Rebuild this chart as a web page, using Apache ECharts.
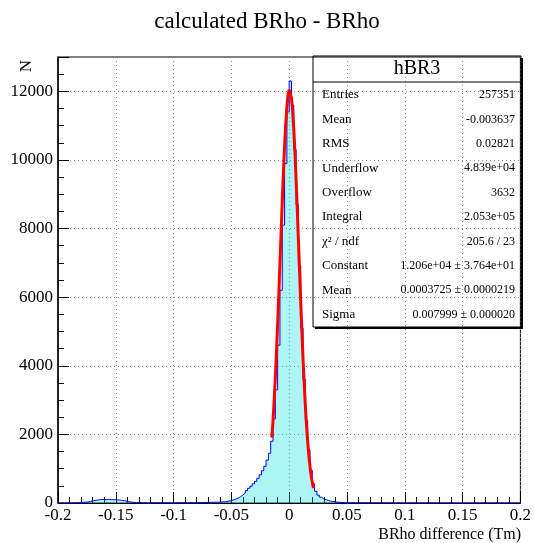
<!DOCTYPE html>
<html>
<head>
<meta charset="utf-8">
<script src="https://cdn.jsdelivr.net/npm/echarts@6/dist/echarts.min.js"></script>
<style>
  html, body { margin: 0; padding: 0; background: #fff; }
  #chart { width: 534px; height: 543px; }
</style>
</head>
<body>
<div id="chart"></div>
<script>
// histogram hBR3: 200 bins of 0.002 from -0.2 to 0.2
const binLow = -0.2;
const binWidth = 0.002;
const counts = [
  0, 0, 0, 0, 2, 3, 5, 8, 10, 15,                          // -0.200
  20, 25, 30, 45, 60, 75, 85, 95, 100, 105,                 // -0.180
  100, 105, 100, 95, 95, 90, 85, 75, 65, 50,                // -0.160
  35, 25, 15, 10, 20, 10, 6, 5, 4, 5,                       // -0.140
  4, 5, 5, 6, 5, 6, 6, 7, 7, 8,                             // -0.120
  6, 6, 7, 7, 8, 8, 9, 9, 10, 10,                           // -0.100
  11, 12, 13, 14, 16, 18, 20, 22, 25, 27,                   // -0.080
  30, 35, 45, 55, 70, 90, 115, 145, 185, 235,               // -0.060
  290, 360, 430, 490, 560, 630, 720, 820, 940, 1070,        // -0.040
  1250, 1450, 1800, 2450, 3300, 4600, 6200, 8100, 9900, 11400, // -0.020
  12300, 11600, 10300, 8700, 6900, 5100, 3600, 2400, 1550, 950, // 0.000
  560, 340, 230, 170, 120, 95, 75, 55, 45, 35,              // 0.020
  25, 20, 16, 13, 11, 9, 8, 7, 6, 5,                        // 0.040
  5, 4, 4, 4, 3, 3, 3, 3, 2, 2,                             // 0.060
  2, 2, 2, 2, 1, 1, 1, 1, 1, 1,                             // 0.080
  1, 1, 1, 0, 1, 0, 0, 1, 0, 0,                             // 0.100
  0, 0, 1, 0, 0, 0, 0, 0, 0, 0,                             // 0.120
  0, 0, 0, 0, 0, 0, 0, 0, 0, 0,                             // 0.140
  0, 0, 0, 0, 0, 0, 0, 0, 0, 0,                             // 0.160
  0, 0, 0, 0, 0, 0, 0, 0, 0, 0                              // 0.180
];

// gaussian fit curve
const fitX = [
  -0.015, -0.014, -0.013, -0.012, -0.011, -0.010, -0.009, -0.008, -0.007, -0.006,
  -0.005, -0.004, -0.003, -0.002, -0.001, 0.000, 0.001, 0.002, 0.003, 0.004,
  0.005, 0.006, 0.007, 0.008, 0.009, 0.010, 0.011, 0.012, 0.013, 0.014,
  0.015, 0.016, 0.017, 0.018, 0.019, 0.020, 0.021
];
const fitY = [
  1904, 2404, 2986, 3651, 4393, 5206, 6073, 6978, 7892, 8785,
  9630, 10391, 11035, 11541, 11884, 12047, 12023, 11811, 11426, 10879,
  10200, 9414, 8555, 7652, 6739, 5844, 4987, 4191, 3469, 2826,
  2266, 1787, 1389, 1064, 801, 594, 434
];

const statLabels = ["Entries", "Mean", "RMS", "Underflow", "Overflow", "Integral",
  "χ² / ndf", "Constant", "Mean", "Sigma"];
const statValues = ["257351", "-0.003637", "0.02821", "4.839e+04", "3632", "2.053e+05",
  "205.6 / 23", "1.206e+04 ± 3.764e+01", "0.0003725 ± 0.0000219", "0.007999 ± 0.000020"];

const SERIF = '"Liberation Serif", "DejaVu Serif", serif';

function histPoints() {
  const pts = counts.map((c, i) => [binLow + i * binWidth, c]);
  pts.push([binLow + counts.length * binWidth, counts[counts.length - 1]]);
  return pts;
}

function statsGraphic() {
  const x0 = 313, y0 = 56, w = 208, h = 271;
  const items = [
    { type: "rect", shape: { x: x0, y: y0, width: w, height: h },
      style: { fill: "none", stroke: "#000", lineWidth: 1 }, z: 100 },
    { type: "line", shape: { x1: x0 + w + 1, y1: y0 + 2, x2: x0 + w + 1, y2: y0 + h + 1 },
      style: { stroke: "#000", lineWidth: 2 }, z: 100 },
    { type: "line", shape: { x1: x0 + 2, y1: y0 + h + 1, x2: x0 + w + 2, y2: y0 + h + 1 },
      style: { stroke: "#000", lineWidth: 2 }, z: 100 },
    { type: "line", shape: { x1: x0, y1: 82, x2: x0 + w, y2: 82 },
      style: { stroke: "#000", lineWidth: 1 }, z: 100 },
    { type: "text", x: x0 + w / 2, y: 69, z: 100,
      style: { text: "hBR3", font: "20px " + SERIF, fill: "#000",
        align: "center", verticalAlign: "middle" } }
  ];
  statLabels.forEach((label, i) => {
    const y = 95 + i * 24.4;
    items.push({ type: "text", x: 322, y, z: 100,
      style: { text: label, font: "13px " + SERIF, fill: "#000", verticalAlign: "middle" } });
    items.push({ type: "text", x: 515, y, z: 100,
      style: { text: statValues[i], font: "12px " + SERIF, fill: "#000",
        align: "right", verticalAlign: "middle" } });
  });
  return items;
}

const chart = echarts.init(document.getElementById("chart"));
chart.setOption({
  animation: false,
  backgroundColor: "#fff",
  title: {
    text: "calculated BRho - BRho",
    left: "center",
    top: 5,
    textStyle: { fontFamily: SERIF, fontSize: 23, fontWeight: "normal", color: "#000" }
  },
  grid: {
    left: 58, right: 13, top: 57, bottom: 40,
    show: true, borderColor: "#000", borderWidth: 1, backgroundColor: "transparent"
  },
  xAxis: {
    type: "value",
    min: -0.2, max: 0.2, interval: 0.05,
    axisLine: { onZero: false, lineStyle: { color: "#000", width: 1 } },
    axisTick: { inside: true, length: 11, lineStyle: { color: "#000" } },
    minorTick: { show: true, splitNumber: 5, length: 6, lineStyle: { color: "#000" } },
    splitLine: { show: true, lineStyle: { color: "#888", type: [1, 3] } },
    axisLabel: {
      fontFamily: SERIF, fontSize: 17, color: "#000", margin: 4,
      formatter: (v) => String(+v.toFixed(3))
    }
  },
  yAxis: {
    type: "value",
    min: 0, max: 13000, interval: 2000,
    axisLine: { show: true, onZero: false, lineStyle: { color: "#000", width: 1.5 } },
    axisTick: { show: true, inside: true, length: 11, lineStyle: { color: "#000" } },
    minorTick: { show: true, splitNumber: 4, length: 6, lineStyle: { color: "#000" } },
    splitLine: { show: true, lineStyle: { color: "#888", type: [1, 3] } },
    axisLabel: {
      fontFamily: SERIF, fontSize: 17, color: "#000", margin: 5, showMaxLabel: false,
      formatter: (v) => String(v)
    }
  },
  graphic: [
    { type: "text", x: 521, y: 535, z: 100,
      style: { text: "BRho difference (Tm)", font: "16px " + SERIF, fill: "#000",
        align: "right", verticalAlign: "middle" } },
    { type: "text", x: 27, y: 66, rotation: Math.PI / 2, z: 100,
      style: { text: "N", font: "17px " + SERIF, fill: "#000",
        align: "center", verticalAlign: "middle" } }
  ].concat(statsGraphic()),
  series: [
    {
      type: "line",
      step: "end",
      data: histPoints(),
      showSymbol: false,
      lineStyle: { color: "#0000ff", width: 1 },
      areaStyle: { color: "rgba(0, 225, 225, 0.45)", origin: "start" },
      z: 3
    },
    {
      type: "line",
      data: fitX.map((x, i) => [x, fitY[i]]),
      showSymbol: false,
      lineStyle: { color: "#ff0000", width: 3 },
      z: 4
    }
  ]
});
</script>
</body>
</html>
